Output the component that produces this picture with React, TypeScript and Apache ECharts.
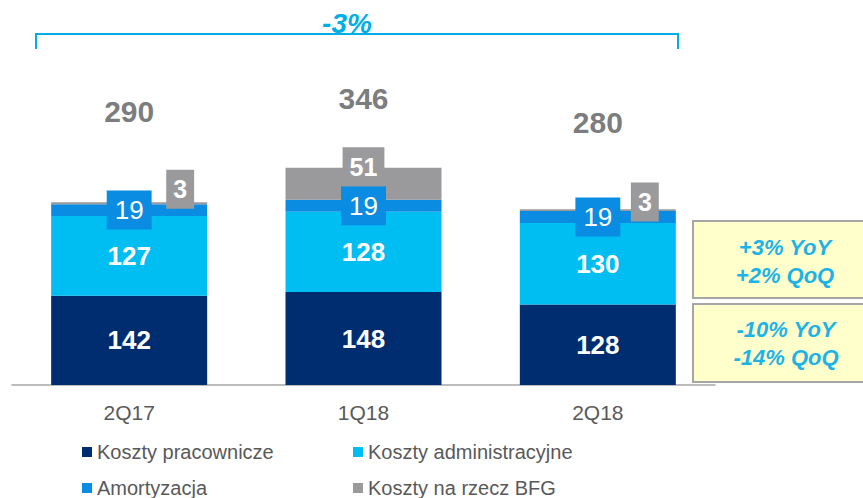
import React, { useEffect, useRef } from "react";
import * as echarts from "echarts";

const categories = ["2Q17", "1Q18", "2Q18"];
const personnel = [142, 148, 128];
const admin = [127, 128, 130];
const amort = [19, 19, 19];
const bfg = [3, 51, 3];
const totals = [290, 346, 280];
const seriesNames = ["Koszty pracownicze", "Koszty administracyjne", "Amortyzacja", "Koszty na rzecz BFG"];
const bracketLabel = "-3%";
const adminChange = ["+3% YoY", "+2% QoQ"];
const personnelChange = ["-10% YoY", "-14% QoQ"];

const bfgOffsets = [[51, -14], [0, -17], [47, -8]];
const totalOffsets = [-91, -69, -87];
const legendPos = [[82, 442], [353, 442], [82, 478], [353, 478]];

const C_NAVY = "#002d70";
const C_LIGHT = "#00bdf2";
const C_AMORT = "#0a8ce2";
const C_GREY = "#9a9a9c";
const C_CYAN = "#1db3e6";

export default function App() {
  const ref = useRef<HTMLDivElement>(null);
  useEffect(() => {
    document.body.style.margin = "0";
    const chart = echarts.init(ref.current!, null, { renderer: "svg" });
    const font = "Liberation Sans, Arial, sans-serif";
    const whiteBold = { show: true, position: "inside", color: "#fff", fontWeight: "bold", fontSize: 26, fontFamily: font };
    chart.setOption({
      animation: false,
      textStyle: { fontFamily: font },
      grid: { left: 12, right: 148, top: 71, bottom: 113, containLabel: false },
      xAxis: {
        type: "category",
        data: categories,
        axisLine: { lineStyle: { color: "#a6a6a6", width: 1.5 } },
        axisTick: { length: 6, lineStyle: { color: "#a6a6a6", width: 1.5 } },
        axisLabel: { color: "#595959", fontSize: 21, margin: 17, fontFamily: font },
      },
      yAxis: { type: "value", min: 0, max: 500, show: false, splitLine: { show: false } },
      legend: seriesNames.map((n, i) => ({
        left: legendPos[i][0], top: legendPos[i][1], padding: 0, icon: "rect", itemWidth: 10, itemHeight: 10,
        data: [n],
        textStyle: { fontSize: 20, color: "#595959", fontFamily: font },
      })),
      series: [
        {
          name: seriesNames[0], type: "bar", stack: "t", barWidth: 156, data: personnel,
          itemStyle: { color: C_NAVY }, label: whiteBold,
        },
        {
          name: seriesNames[1], type: "bar", stack: "t", barWidth: 156, data: admin,
          itemStyle: { color: C_LIGHT }, label: whiteBold,
        },
        {
          name: seriesNames[2], type: "bar", stack: "t", barWidth: 156, data: amort,
          itemStyle: { color: C_AMORT },
          label: {
            show: true, position: "inside", color: "#fff", fontSize: 26, fontFamily: font,
            backgroundColor: C_AMORT, padding: [7, 8], lineHeight: 25,
          },
        },
        {
          name: seriesNames[3], type: "bar", stack: "t", barWidth: 156,
          data: bfg.map((v, i) => ({ value: v, label: { offset: bfgOffsets[i] } })),
          itemStyle: { color: C_GREY },
          label: {
            show: true, position: "inside", color: "#fff", fontWeight: "bold", fontSize: 25, fontFamily: font,
            backgroundColor: C_GREY, padding: [7, 7], lineHeight: 25,
          },
        },
        {
          name: "total", type: "scatter", symbolSize: 0.1,
          itemStyle: { color: "transparent" },
          data: totals.map((v, i) => ({ value: v, label: { offset: [0, totalOffsets[i]] } })),
          label: {
            show: true, position: "inside", color: "#58595b", fontWeight: "bold", fontSize: 30, fontFamily: font,
            formatter: (p: any) => String(p.value),
          },
          silent: true,
          z: 10,
        },
      ],
      graphic: [
        {
          type: "polyline",
          shape: { points: [[36, 49], [36, 34], [678, 34], [678, 49]] },
          style: { stroke: "#00aee6", lineWidth: 2, fill: null },
        },
        {
          type: "text", x: 347, y: 23,
          style: {
            text: bracketLabel, fill: "#00aee6", fontSize: 28, fontWeight: "bold", fontStyle: "italic",
            fontFamily: font, align: "center", verticalAlign: "middle",
          },
        },
        {
          type: "rect", shape: { x: 693, y: 221, width: 190, height: 77 },
          style: { fill: "#ffffcc", stroke: "#a6a6a6", lineWidth: 2 },
        },
        {
          type: "rect", shape: { x: 693, y: 304, width: 190, height: 78 },
          style: { fill: "#ffffcc", stroke: "#a6a6a6", lineWidth: 2 },
        },
        {
          type: "text", x: 785, y: 261,
          style: {
            text: adminChange.join("\n"), fill: C_CYAN, fontSize: 22, fontWeight: "bold", fontStyle: "italic",
            fontFamily: font, align: "center", verticalAlign: "middle", lineHeight: 28,
          },
        },
        {
          type: "text", x: 786, y: 343,
          style: {
            text: personnelChange.join("\n"), fill: C_CYAN, fontSize: 22, fontWeight: "bold", fontStyle: "italic",
            fontFamily: font, align: "center", verticalAlign: "middle", lineHeight: 28,
          },
        },
      ],
    });
    return () => chart.dispose();
  }, []);
  return <div ref={ref} style={{ width: 863, height: 498 }} />;
}
